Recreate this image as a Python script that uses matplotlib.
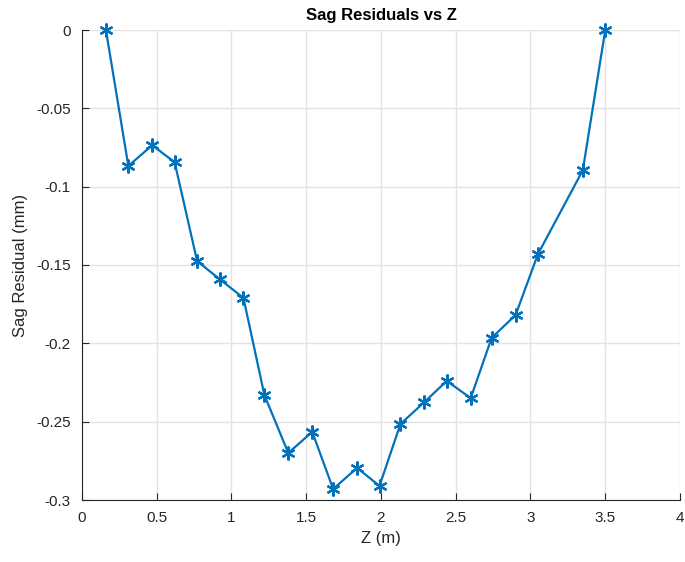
import matplotlib.pyplot as plt
import numpy as np

z = [0.16, 0.31, 0.47, 0.62, 0.77, 0.92, 1.08, 1.22, 1.38, 1.54, 1.68,
     1.84, 1.99, 2.13, 2.29, 2.44, 2.60, 2.74, 2.90, 3.05, 3.35, 3.50]
sag = [0.0, -0.0868, -0.0735, -0.0845, -0.1475, -0.159, -0.171, -0.233,
       -0.270, -0.2565, -0.293, -0.2795, -0.291, -0.2515, -0.2375, -0.224,
       -0.235, -0.1965, -0.182, -0.143, -0.0895, 0.0]

plt.rcParams['font.family'] = ['Liberation Sans', 'DejaVu Sans']

fig = plt.figure(figsize=(6.85, 5.62), dpi=100)
ax = fig.add_axes([82 / 685, 1 - 500 / 562, 598 / 685, 470 / 562])

ax.plot(z, sag, color='#0072BD', lw=1.6, marker=(6, 2, 0), ms=10, mew=1.6,
        clip_on=False, zorder=3)

ax.set_xlim(0, 4)
ax.set_ylim(-0.3, 0)
ax.set_xticks(np.arange(0, 4.01, 0.5))
ax.set_xticklabels(['0', '0.5', '1', '1.5', '2', '2.5', '3', '3.5', '4'])
ax.set_yticks([-0.3, -0.25, -0.2, -0.15, -0.1, -0.05, 0])
ax.set_yticklabels(['-0.3', '-0.25', '-0.2', '-0.15', '-0.1', '-0.05', '0'])
ax.grid(True, color='#e3e3e3', lw=1)
ax.set_axisbelow(True)

for s in ['top', 'right']:
    ax.spines[s].set_visible(False)
for s in ['left', 'bottom']:
    ax.spines[s].set_color('#262626')
ax.tick_params(direction='in', length=5, colors='#262626', labelsize=11, pad=8)

ax.set_xlabel('Z (m)', fontsize=12, color='#262626', labelpad=4)
ax.set_ylabel('Sag Residual (mm)', fontsize=12, color='#262626', labelpad=6)
ax.set_title('Sag Residuals vs Z', fontsize=12, fontweight='bold', pad=7)

fig.savefig('out.png')
